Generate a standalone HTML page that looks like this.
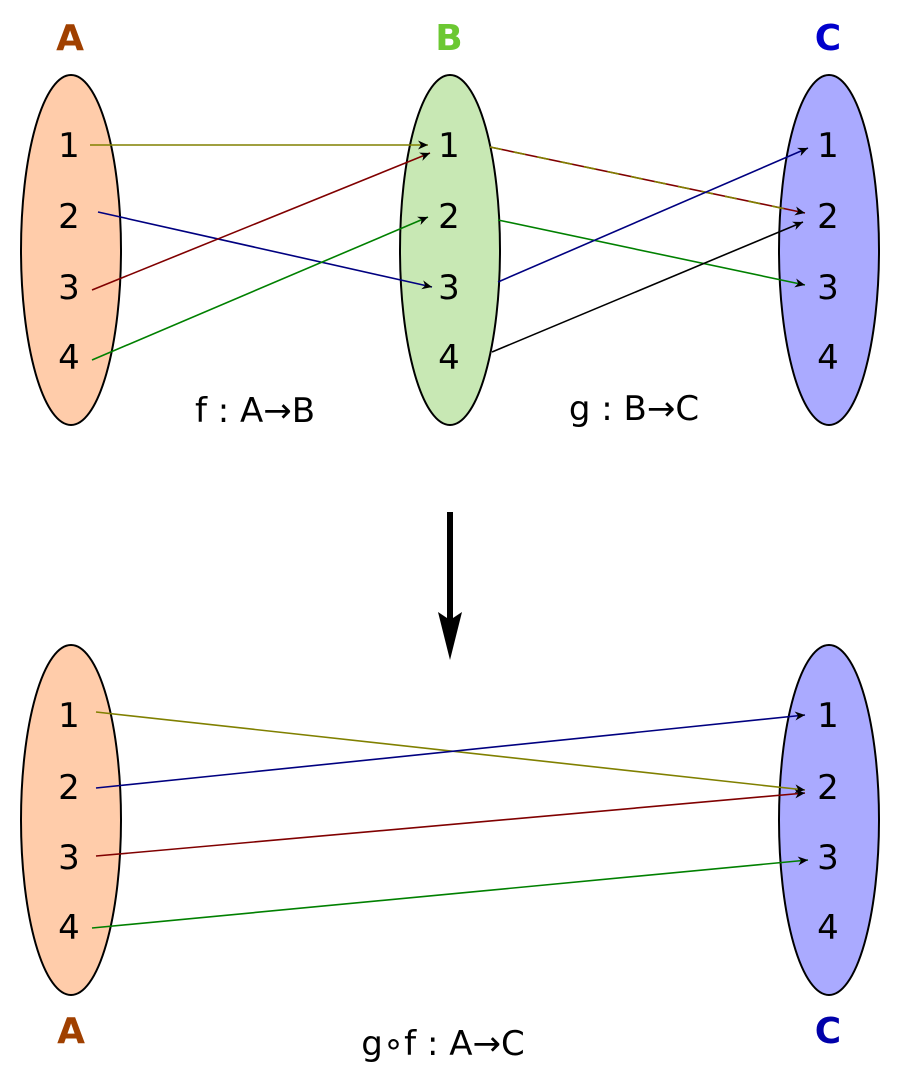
<!DOCTYPE html>
<html><head><meta charset="utf-8"><style>body{margin:0;background:#fff}svg{display:block}</style></head><body>
<svg width="900" height="1083" viewBox="0 0 900 1083" xmlns="http://www.w3.org/2000/svg" font-family="DejaVu Sans, Liberation Sans, sans-serif">
<defs>
<marker id="mk" viewBox="0 0 10 10" refX="10" refY="5" markerWidth="13" markerHeight="10" markerUnits="userSpaceOnUse" orient="auto"><path d="M0,0.5 L10,5 L0,9.5 L3,5 z" fill="#000"/></marker>
</defs>
<g stroke="#000" stroke-width="2">
<ellipse cx="71" cy="250" rx="50" ry="175" fill="#ffccaa"/>
<ellipse cx="450" cy="250" rx="50" ry="175" fill="#c8e8b4"/>
<ellipse cx="829" cy="250" rx="50" ry="175" fill="#aaaaff"/>
<ellipse cx="71" cy="820" rx="50" ry="175" fill="#ffccaa"/>
<ellipse cx="829" cy="820" rx="50" ry="175" fill="#aaaaff"/>
</g>
<g font-size="36" font-weight="bold" text-anchor="middle">
<text x="70" y="50" fill="#a04000">A</text>
<text x="449" y="50" fill="#6cc832">B</text>
<text x="828" y="50" fill="#0000cc">C</text>
<text x="71" y="1043" fill="#a04000">A</text>
<text x="828" y="1043" fill="#0000aa">C</text>
</g>
<g font-size="34" text-anchor="middle" fill="#000">
<text x="69" y="157">1</text><text x="69" y="228">2</text><text x="69" y="299">3</text><text x="69" y="369">4</text>
<text x="449" y="157">1</text><text x="449" y="228">2</text><text x="449" y="299">3</text><text x="449" y="369">4</text>
<text x="828" y="157">1</text><text x="828" y="228">2</text><text x="828" y="299">3</text><text x="828" y="369">4</text>
<text x="69" y="727">1</text><text x="69" y="799">2</text><text x="69" y="869">3</text><text x="69" y="939">4</text>
<text x="828" y="727">1</text><text x="828" y="799">2</text><text x="828" y="869">3</text><text x="828" y="939">4</text>
</g>
<g font-size="34" text-anchor="middle" fill="#000">
<text x="255" y="422">f : A→B</text>
<text x="634" y="420">g : B→C</text>
<text x="443" y="1055">g∘f : A→C</text>
</g>
<g stroke-width="1.6" fill="none">
<line x1="90" y1="145" x2="428" y2="145" stroke="#808000" marker-end="url(#mk)"/>
<line x1="98" y1="212" x2="432" y2="287" stroke="#000080" marker-end="url(#mk)"/>
<line x1="92" y1="290" x2="430" y2="153" stroke="#800000" marker-end="url(#mk)"/>
<line x1="92" y1="360" x2="428" y2="217" stroke="#008000" marker-end="url(#mk)"/>
<line x1="490" y1="147" x2="805" y2="213" stroke="#800000" marker-end="url(#mk)"/>
<line x1="490" y1="147" x2="795" y2="211" stroke="#808000" stroke-dasharray="12 12"/>
<line x1="498" y1="220" x2="805" y2="285" stroke="#008000" marker-end="url(#mk)"/>
<line x1="498" y1="282" x2="808" y2="148" stroke="#000080" marker-end="url(#mk)"/>
<line x1="492" y1="352" x2="803" y2="222" stroke="#000" marker-end="url(#mk)"/>
<line x1="96" y1="712" x2="805" y2="790" stroke="#808000" marker-end="url(#mk)"/>
<line x1="96" y1="788" x2="805" y2="715" stroke="#000080" marker-end="url(#mk)"/>
<line x1="96" y1="856" x2="805" y2="793" stroke="#800000" marker-end="url(#mk)"/>
<line x1="92" y1="928" x2="808" y2="860" stroke="#008000" marker-end="url(#mk)"/>
</g>
<line x1="450" y1="512" x2="450" y2="625" stroke="#000" stroke-width="6"/>
<path d="M438,612 L450,660 L462,612 L450,620 z" fill="#000"/>
</svg>
</body></html>
